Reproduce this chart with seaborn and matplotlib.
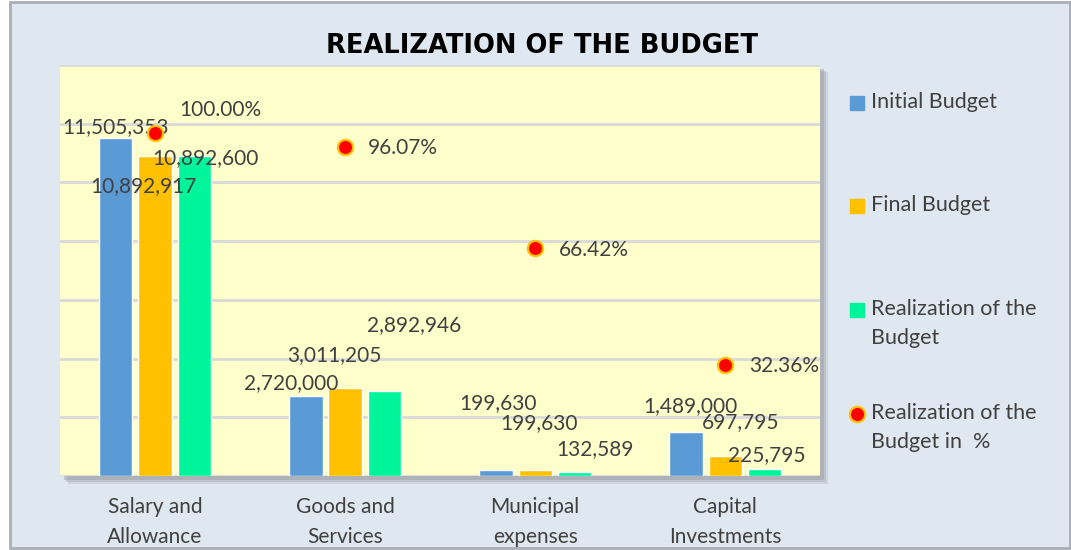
import pandas as pd
import seaborn as sns
import matplotlib.pyplot as plt
from matplotlib.patches import Rectangle
from matplotlib.lines import Line2D

categories = ["Salary and\nAllowance", "Goods and\nServices", "Municipal\nexpenses", "Capital\nInvestments"]
initial_budget = [11505353, 2720000, 199630, 1489000]
final_budget = [10892917, 3011205, 199630, 697795]
realization = [10892600, 2892946, 132589, 225795]
realization_pct = [100.00, 96.07, 66.42, 32.36]

series_names = ["Initial Budget", "Final Budget", "Realization of the\nBudget"]
pct_name = "Realization of the\nBudget in  %"
palette = ["#5B9BD5", "#FFC000", "#00F49A"]
text_color = "#404040"

df = pd.DataFrame({
    "category": categories * 3,
    "series": [s for s in series_names for _ in categories],
    "value": initial_budget + final_budget + realization,
})

sns.set_style("white")
plt.rcParams["font.family"] = ["Lato", "DejaVu Sans"]

fig = plt.figure(figsize=(10.71, 5.5), dpi=100)
fig.patch.set_facecolor("white")
fig.patches.append(Rectangle((0.009, 0.004), 0.99, 0.992, transform=fig.transFigure,
                             facecolor="#DFE7F0", edgecolor="#A9AEB5", linewidth=2, zorder=-10))
# soft shadow behind the plot area
for i, a in enumerate([0.25, 0.35, 0.5]):
    off = (3 - i) * 0.0018
    fig.patches.append(Rectangle((0.058 + off, 0.131 - off * 1.9), 0.71, 0.7475,
                                 transform=fig.transFigure, facecolor="#9EA3A9",
                                 alpha=a, edgecolor="none", zorder=-5))

ax = fig.add_axes([0.056, 0.1345, 0.71, 0.7475])
ax.set_facecolor("#FFFFCC")
sns.barplot(data=df, x="category", y="value", hue="series", palette=palette,
            width=0.62, gap=0.15, ax=ax, legend=False, saturation=1)
ax.set_ylim(0, 14000000)
ax.set_yticks(range(0, 14000001, 2000000))
ax.set_yticklabels([])
ax.tick_params(axis="y", length=0)
ax.grid(axis="y", color="#D9D9D9", linewidth=2)
ax.set_axisbelow(True)
for sp in ax.spines.values():
    sp.set_visible(False)
ax.set_xlabel("")
ax.set_ylabel("")
ax.tick_params(axis="x", length=0, pad=15, labelsize=15, labelcolor=text_color)
for lab in ax.get_xticklabels():
    lab.set_linespacing(1.65)
ax.set_xlim(-0.5, 3.5)

# value labels (offsets in pixels from the bar top, mimicking the reference)
offsets = [
    [(0, 11), (-12, -30), (11, -2)],
    [(-15, 13), (-11, 33), (30, 66)],
    [(2, 67), (4, 47), (20, 23)],
    [(4, 26), (15, 33), (2, 14)],
]
values = [initial_budget, final_budget, realization]
for s_idx, cont in enumerate(ax.containers):
    for c_idx, bar in enumerate(cont):
        dx, dy = offsets[c_idx][s_idx]
        ax.annotate(f"{values[s_idx][c_idx]:,}",
                    (bar.get_x() + bar.get_width() / 2, bar.get_height()),
                    xytext=(dx, dy), textcoords="offset pixels",
                    ha="center", va="center", fontsize=15, color=text_color)

ax2 = ax.twinx()
ax2.set_ylim(0, 120)
ax2.axis("off")
xpos = list(range(len(categories)))
sns.scatterplot(x=xpos, y=realization_pct, ax=ax2, s=120, color="#FF0000",
                edgecolor="#FFC000", linewidth=1.6, zorder=5, legend=False)
pct_offsets = [(65, 23), (58, -1), (59, -2), (59, -1)]
for x, p, (dx, dy) in zip(xpos, realization_pct, pct_offsets):
    ax2.annotate(f"{p:.2f}%", (x, p), xytext=(dx, dy), textcoords="offset pixels",
                 ha="center", va="center", fontsize=15, color=text_color)

fig.text(0.506, 0.916, "REALIZATION OF THE BUDGET", ha="center", va="center",
         fontsize=18.5, fontweight="bold", color="black", family="DejaVu Sans")

# legend drawn entry by entry so that entries are evenly spaced like the reference
legend_y = [0.812, 0.625, 0.436, 0.247]
markers = [dict(marker="s", markerfacecolor=c, markeredgecolor=c, markersize=10) for c in palette]
markers.append(dict(marker="o", markerfacecolor="#FF0000", markeredgecolor="#FFC000",
                    markeredgewidth=1.6, markersize=11))
for y, lab, mk in zip(legend_y, series_names + [pct_name], markers):
    fig.add_artist(Line2D([0.8005], [y], transform=fig.transFigure, color="none", **mk))
    fig.text(0.8135, y + 0.021, lab, ha="left", va="top", fontsize=15.5, color=text_color,
             linespacing=1.6, transform=fig.transFigure)

fig.savefig("out.png", dpi=100)
